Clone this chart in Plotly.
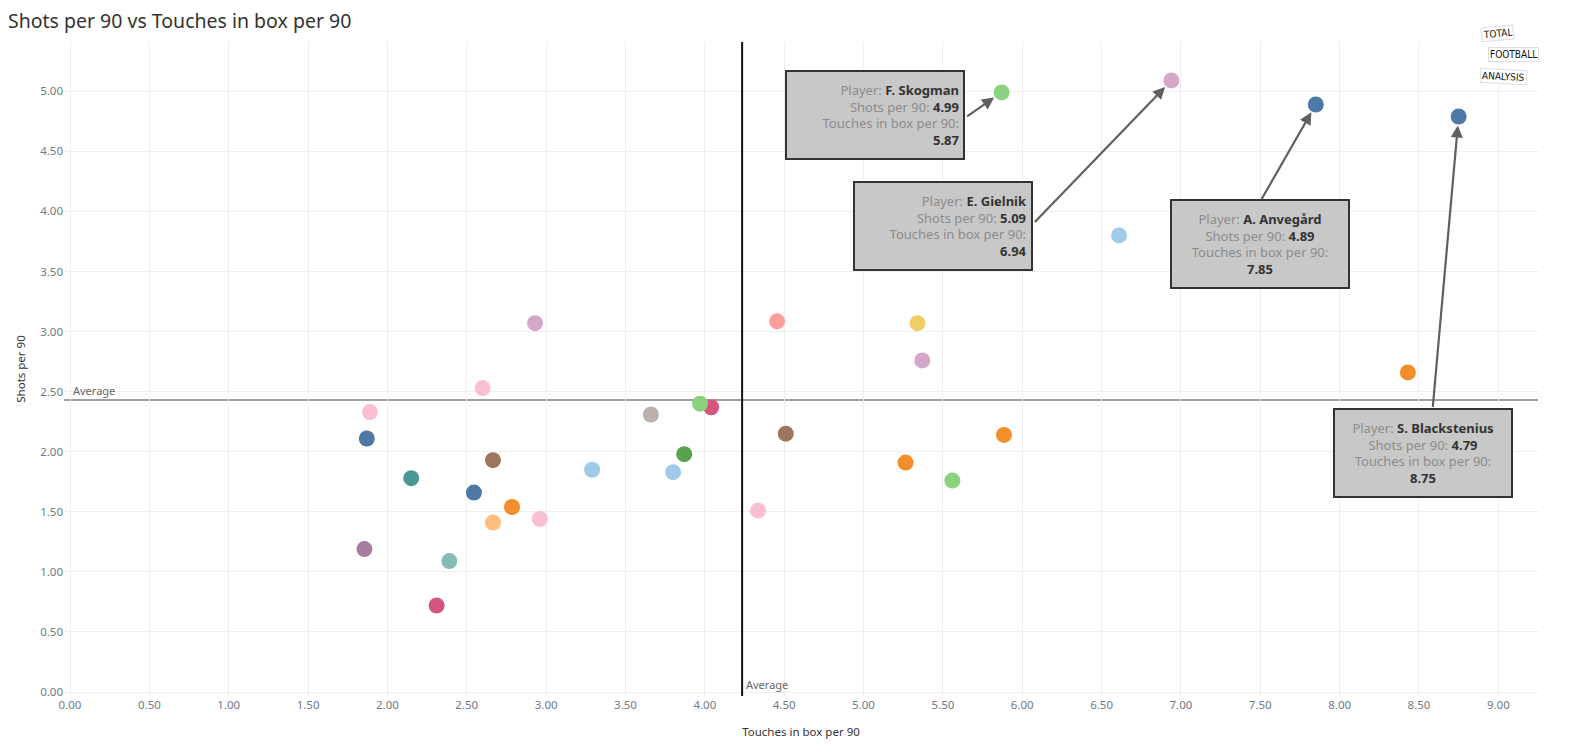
import plotly.graph_objects as go

# ---- data ----
touches = [5.87, 6.94, 7.85, 8.75,
           6.61, 4.455, 5.34, 5.37, 8.43, 5.885, 4.51, 5.265, 5.56, 4.335,
           4.04, 3.97, 3.87, 3.80, 3.66, 3.29, 2.93, 2.60, 2.665, 2.545,
           2.785, 2.665, 2.96, 2.39, 2.31, 2.15, 1.89, 1.87, 1.855]
shots = [4.99, 5.09, 4.89, 4.79,
         3.80, 3.085, 3.07, 2.76, 2.66, 2.14, 2.15, 1.91, 1.76, 1.51,
         2.37, 2.40, 1.98, 1.83, 2.31, 1.85, 3.07, 2.53, 1.93, 1.66,
         1.54, 1.41, 1.44, 1.09, 0.72, 1.78, 2.33, 2.11, 1.19]
colors = ["#8cd17d", "#d4a6c8", "#4e79a7", "#4e79a7",
          "#a0cbe8", "#ff9d9a", "#f1ce63", "#d4a6c8", "#f28e2b", "#f28e2b", "#9d7660", "#f28e2b", "#8cd17d", "#fabfd2",
          "#d4567f", "#8cd17d", "#59a14f", "#a0cbe8", "#bab0ac", "#a0cbe8", "#d4a6c8", "#fabfd2", "#9d7660", "#4e79a7",
          "#f28e2b", "#ffbe7d", "#fabfd2", "#86bcb6", "#d4567f", "#499894", "#fabfd2", "#4e79a7", "#a87c9f"]

labelled_players = ["F. Skogman", "E. Gielnik", "A. Anvegård", "S. Blackstenius"]
labelled_idx = [0, 1, 2, 3]

avg_touches = 4.235
avg_shots = 2.43

x_ticks = [i * 0.5 for i in range(19)]
y_ticks = [i * 0.5 for i in range(11)]

FONT = "Noto Sans"

fig = go.Figure()
fig.add_trace(go.Scatter(
    x=touches, y=shots, mode="markers",
    marker=dict(size=16, color=colors, line=dict(width=0)),
    hoverinfo="x+y", showlegend=False))

# average lines
fig.add_shape(type="line", xref="paper", yref="y", x0=0, x1=1, y0=avg_shots, y1=avg_shots,
              line=dict(color="#a0a0a0", width=2), layer="below")
fig.add_shape(type="line", xref="x", yref="paper", x0=avg_touches, x1=avg_touches, y0=0, y1=1,
              line=dict(color="#111111", width=2))
fig.add_annotation(xref="paper", yref="y", x=0.005, y=avg_shots, text="Average", showarrow=False,
                   xanchor="left", yanchor="bottom", font=dict(family=FONT, size=11, color="#666666"))
fig.add_annotation(xref="x", yref="paper", x=avg_touches, y=0.0, text="Average", showarrow=False,
                   xanchor="left", yanchor="bottom", xshift=2, yshift=2,
                   font=dict(family=FONT, size=11, color="#666666"))

# tooltip-like boxes (pixel offsets of box centre from point, alignment, arrow tail offset)
box_cfg = [(-126.5, -23, "right", (-36, 25)),
           (-228.7, -145.2, "right", (-138, 143)),
           (-55.8, -139.7, "center", (-55, 96)),
           (-35.2, -336.7, "center", (-26, 292))]
LAB = "#8c8c8c"
VAL = "#333333"
for name, i, (xs, ys, al, (ax, ay)) in zip(labelled_players, labelled_idx, box_cfg):
    txt = (f"<span style='color:{LAB}'>Player: </span><b>{name}</b><br>"
           f"<span style='color:{LAB}'>Shots per 90: </span><b>{shots[i]:.2f}</b><br>"
           f"<span style='color:{LAB}'>Touches in box per 90:</span><br>"
           f"<b>{touches[i]:.2f}</b>")
    fig.add_annotation(x=touches[i], y=shots[i], xref="x", yref="y", text=txt, showarrow=False,
                       xshift=xs, yshift=ys, xanchor="center", yanchor="middle",
                       width=168, height=78, align=al, valign="middle",
                       bgcolor="#c8c8c8", bordercolor="#333333", borderwidth=2, borderpad=4,
                       font=dict(family=FONT, size=13, color=VAL))
    fig.add_annotation(x=touches[i], y=shots[i], xref="x", yref="y", text="", showarrow=True,
                       ax=ax, ay=ay, arrowhead=2, arrowsize=1.1, arrowwidth=2.2,
                       arrowcolor="#606060", standoff=9)

# logo (figure is offset by the 8px page margin)
W, H = 1568, 747
L, R, T, B = 54, 38, 34, 59
for t, px, py, rot in [("TOTAL", 1497, 34, -5), ("FOOTBALL", 1513, 54, 0), ("ANALYSIS", 1503, 76, 3)]:
    fx, fy = px - 8, py - 8
    fig.add_annotation(xref="paper", yref="paper",
                       x=(fx - L) / (W - L - R), y=(H - B - fy) / (H - T - B),
                       text=t, showarrow=False, textangle=rot, xanchor="center", yanchor="middle",
                       font=dict(family="DejaVu Sans Condensed", size=10, color="#111111"),
                       bgcolor="#ffffff", bordercolor="#dddddd", borderwidth=1, borderpad=1)

fig.update_layout(
    width=W, height=H,
    paper_bgcolor="white", plot_bgcolor="white",
    margin=dict(l=L, r=R, t=T, b=B),
    title=dict(text="Shots per 90 vs Touches in box per 90", x=0.0, xanchor="left",
               y=1 - 13 / H, yanchor="middle",
               font=dict(family=FONT, size=19.5, color="#333333")),
    font=dict(family=FONT),
    xaxis=dict(range=[-0.038, 9.25], tickvals=x_ticks, tickformat=".2f",
               showgrid=True, gridcolor="#eeeeee", gridwidth=1, zeroline=False,
               showline=False, ticks="", tickfont=dict(size=11.5, color="#707a85"),
               title=dict(text="Touches in box per 90", font=dict(size=11.5, color="#333333"), standoff=17)),
    yaxis=dict(range=[-0.033, 5.41], tickvals=y_ticks, tickformat=".2f",
               showgrid=True, gridcolor="#eeeeee", gridwidth=1, zeroline=False,
               showline=False, ticks="", tickfont=dict(size=11.5, color="#707a85"),
               title=dict(text="Shots per 90", font=dict(size=11.5, color="#333333"), standoff=12)),
)

fig.write_html("out.html")
